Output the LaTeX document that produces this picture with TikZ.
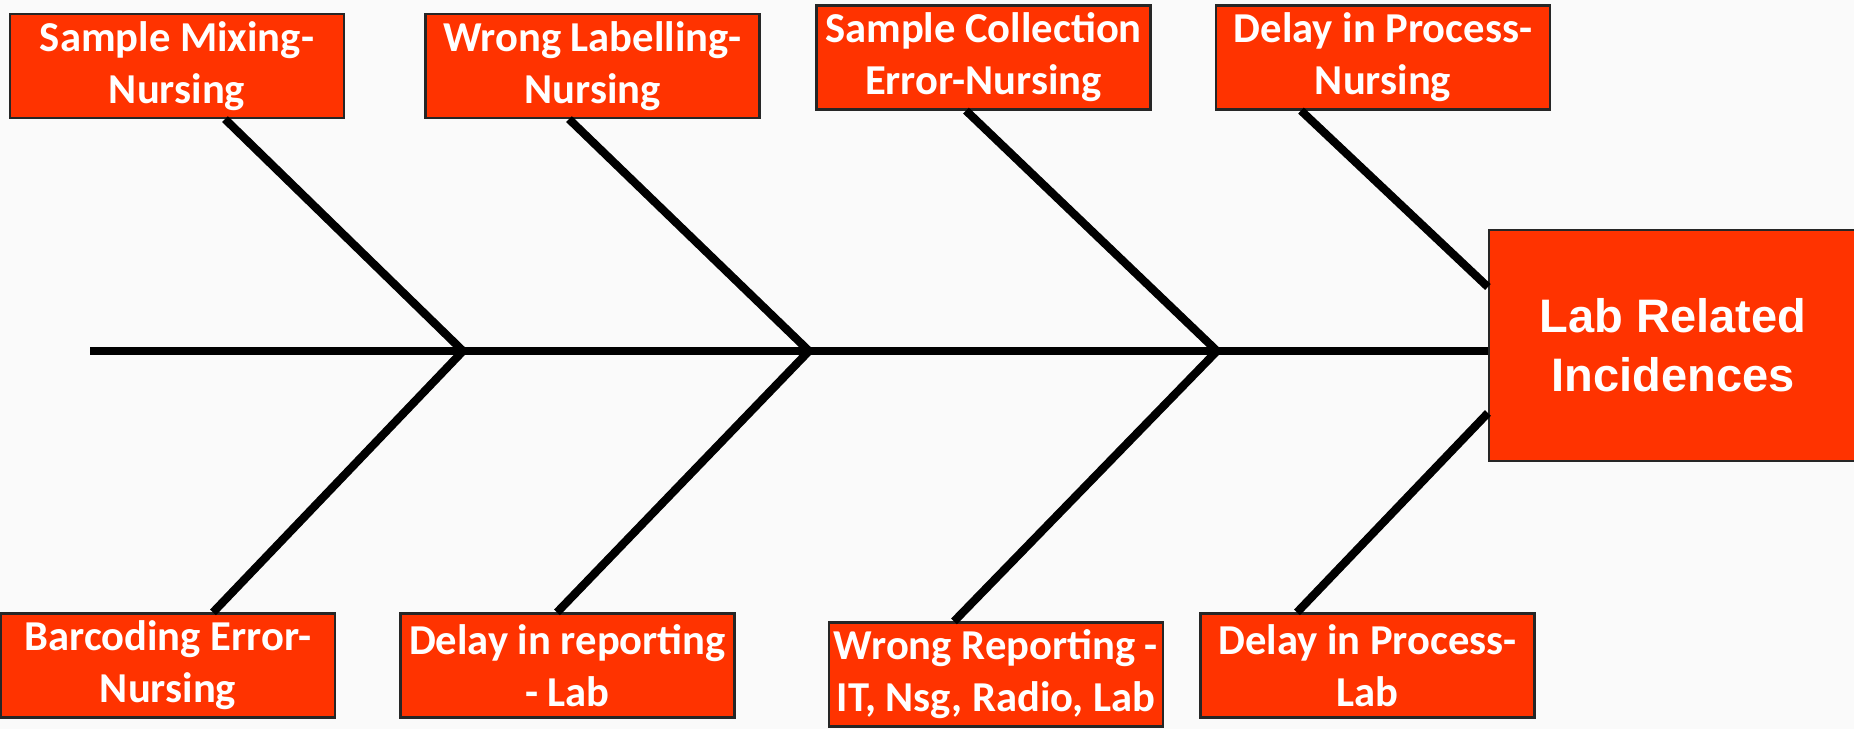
\documentclass[tikz,border=0pt]{standalone}
\usepackage{fontspec}
\setmainfont{Carlito}
\newfontfamily\headfont{Liberation Sans}
\usetikzlibrary{positioning,calc}
\definecolor{fishred}{RGB}{255,51,0}
\definecolor{paper}{RGB}{250,250,250}

\begin{document}
\begin{tikzpicture}[
    x=0.5pt, y=-0.5pt,
    cause/.style={rectangle, draw=black!85, line width=1.1pt, fill=fishred, text=white, inner sep=0pt, minimum width=167pt, minimum height=52pt, align=center, font=\fontsize{21.3pt}{26pt}\selectfont\bfseries},
    effect/.style={rectangle, draw=black!85, line width=1.1pt, fill=fishred, text=white, inner sep=0pt, minimum width=184pt, minimum height=115.5pt, align=center, font=\headfont\fontsize{23.5pt}{29.5pt}\selectfont\bfseries},
    bone/.style={line width=4.1pt, black},
]

\useasboundingbox (0,0) rectangle (1854,729);
\fill[paper] (0,0) rectangle (1854,729);

% Effect
\node[effect] (effect) at (1673,345.5) {Lab Related\\Incidences};

% Upper causes
\node[cause] (mixing) at (177,66) {Sample Mixing-\\Nursing};
\node[cause] (labelling) at (592.5,66) {Wrong Labelling-\\Nursing};
\node[cause] (collection) at (983.5,57.5) {Sample Collection\\Error-Nursing};
\node[cause] (processnsg) at (1383,57.5) {Delay in Process-\\Nursing};

% Lower causes
\node[cause] (barcoding) at (168,665.5) {Barcoding Error-\\Nursing};
\node[cause] (reporting) at (567.5,665.5) {Delay in reporting\\- Lab};
\node[cause] (wrongrep) at (996,674.5) {Wrong Reporting -\\IT, Nsg, Radio, Lab};
\node[cause] (processlab) at (1367.5,665.5) {Delay in Process-\\Lab};

% Spine
\coordinate (tail) at (90,351);
\coordinate (j1) at (463,351);
\coordinate (j2) at (809,351);
\coordinate (j3) at (1217,351);
\draw[bone] (tail) -- (tail -| effect.west);

% Bones
\draw[bone] (j1) -- ($(mixing.south)+(48,0)$);
\draw[bone] (j2) -- ($(labelling.south)+(-23.5,0)$);
\draw[bone] (j3) -- ($(collection.south)+(-17.5,0)$);
\draw[bone] ($(effect.west)+(0,-58.5)$) -- ($(processnsg.south)+(-82,0)$);

\draw[bone] (j1) -- ($(barcoding.north)+(45,0)$);
\draw[bone] (j2) -- ($(reporting.north)+(-10.5,0)$);
\draw[bone] (j3) -- ($(wrongrep.north)+(-42,0)$);
\draw[bone] ($(effect.west)+(0,67.5)$) -- ($(processlab.north)+(-70.5,0)$);

\end{tikzpicture}
\end{document}
